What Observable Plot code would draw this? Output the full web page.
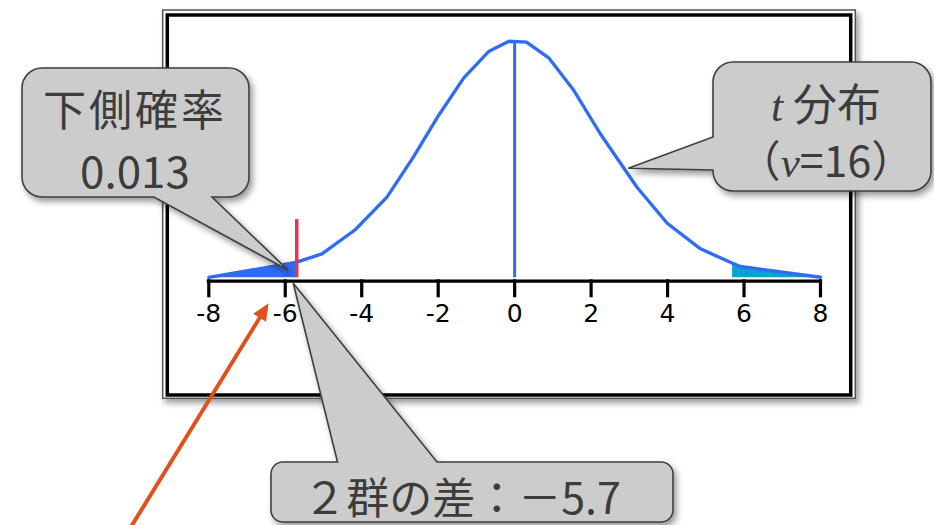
<!DOCTYPE html>
<html><head><meta charset="utf-8">
<script src="https://cdn.jsdelivr.net/npm/d3@7"></script>
<script src="https://cdn.jsdelivr.net/npm/@observablehq/plot@0.6"></script>
<style>
body{margin:0;background:#fff;}
#chart svg{display:block;}
</style>
</head><body><div id="chart"></div>
<script>
// ---- data ----
const ticksX = [-8, -6, -4, -2, 0, 2, 4, 6, 8];
const curveX = [-8, -5.7, -5.04, -4.17, -3.34, -2.65, -1.99, -1.33, -0.67, -0.15, 0.31, 0.89, 1.55, 2.24, 3.2, 3.99, 4.86, 5.7, 5.9, 8];
const curveY = [0.0003, 0.0113, 0.0173, 0.0347, 0.0582, 0.0871, 0.1172, 0.1444, 0.1636, 0.1708, 0.1701, 0.1588, 0.1352, 0.1040, 0.0654, 0.0394, 0.0209, 0.0105, 0.0082, 0.0004];
const observedDiff = -5.7;
const upperCut = 5.7;
const markerTop = 0.042;
const lowerProbText = "0.013";
const dfText = "16";
const diffText = "－5.7";

const BLUE = "#2f6cf6", TEAL = "#0aa0cf", RED = "#e8334a", ORANGE = "#e0521c";
const GREYFILL = "#cccccc", GREYLINE = "#3f3f3f", TEXT = "#3c3c3c";

const curve = curveX.map((x, i) => ({x, y: curveY[i]}));
const lower = curve.filter(d => d.x <= observedDiff);
const upper = curve.filter(d => d.x >= upperCut);
const peak = d3.max(curveY);

const svg = Plot.plot({
  width: 934, height: 525,
  marginLeft: 208.3, marginRight: 114, marginTop: 28, marginBottom: 247.7,
  x: {domain: [ticksX[0], ticksX[ticksX.length - 1]]},
  y: {domain: [0, 0.18], axis: null},
  style: {background: "transparent", overflow: "visible", fontFamily: "DejaVu Sans", fontSize: "25px", color: "#000"},
  marks: [
    Plot.areaY(lower, {x: "x", y: "y", fill: BLUE}),
    Plot.areaY(upper, {x: "x", y: "y", fill: TEAL}),
    Plot.line(curve, {x: "x", y: "y", stroke: BLUE, strokeWidth: 3.3}),
    Plot.ruleX([0], {y1: 0, y2: peak, stroke: BLUE, strokeWidth: 3}),
    Plot.ruleX([observedDiff], {y1: 0, y2: markerTop, stroke: RED, strokeWidth: 3.5}),
    Plot.axisX({ticks: ticksX, tickFormat: d => String(d), tickSize: 18, tickPadding: 6, strokeWidth: 3.2, dy: 2, label: null, anchor: "bottom", fill: "#000", fontSize: 25, fontFamily: "DejaVu Sans"}),
    Plot.ruleY([0], {x1: ticksX[0], x2: ticksX[ticksX.length - 1], stroke: "#000", strokeWidth: 3.2, dy: 3.4, strokeLinecap: "square"})
  ]
});
document.getElementById("chart").appendChild(svg);
d3.select(svg).selectAll("[aria-label='x-axis tick label'], [aria-label='x-axis tick label'] text")
  .attr("font-size", 25).style("font-size", "25px");

// ---- decorations (frame, callouts, arrow) ----
const root = d3.select(svg);
const defs = root.insert("defs", ":first-child");
const sh = defs.append("filter").attr("id", "shadow").attr("x", "-20%").attr("y", "-20%").attr("width", "150%").attr("height", "150%");
sh.append("feDropShadow").attr("dx", 3).attr("dy", 4).attr("stdDeviation", 3).attr("flood-color", "#000").attr("flood-opacity", 0.4);

const frame = root.insert("g", "defs + *");
frame.append("rect").attr("x", 162.7).attr("y", 10).attr("width", 692.6).attr("height", 388.3)
  .attr("fill", "#fff").attr("stroke", "#555").attr("stroke-width", 1.5).attr("filter", "url(#shadow)");
frame.append("rect").attr("x", 167.3).attr("y", 15).attr("width", 683.4).attr("height", 380)
  .attr("fill", "none").attr("stroke", "#000").attr("stroke-width", 3.5);

function calloutPath(x0, y0, x1, y1, r, side, a, b, tip) {
  const p = d3.path();
  p.moveTo(x0 + r, y0);
  if (side === "top") { p.lineTo(a, y0); p.lineTo(tip[0], tip[1]); p.lineTo(b, y0); }
  p.lineTo(x1 - r, y0); p.arcTo(x1, y0, x1, y0 + r, r);
  p.lineTo(x1, y1 - r); p.arcTo(x1, y1, x1 - r, y1, r);
  if (side === "bottom") { p.lineTo(b, y1); p.lineTo(tip[0], tip[1]); p.lineTo(a, y1); }
  p.lineTo(x0 + r, y1); p.arcTo(x0, y1, x0, y1 - r, r);
  if (side === "left") { p.lineTo(x0, b); p.lineTo(tip[0], tip[1]); p.lineTo(x0, a); }
  p.lineTo(x0, y0 + r); p.arcTo(x0, y0, x0 + r, y0, r);
  p.closePath();
  return p.toString();
}
const ann = root.append("g");
function callout(d) {
  ann.append("path").attr("d", d).attr("fill", GREYFILL).attr("stroke", GREYLINE)
    .attr("stroke-width", 1.6).attr("stroke-linejoin", "miter").attr("filter", "url(#shadow)");
}
function label(x, y, size) {
  return ann.append("text").attr("x", x).attr("y", y).attr("text-anchor", "middle")
    .attr("font-family", "'Noto Sans CJK JP', sans-serif").attr("font-size", size).attr("fill", TEXT);
}

const xs = v => svg.scale("x").apply(v);
const y0px = svg.scale("y").apply(0);

// lower-probability callout
callout(calloutPath(22, 68, 249, 197, 20, "bottom", 154, 212, [xs(observedDiff) - 8, y0px - 7]));
label(135, 126, 43).attr("letter-spacing", 3).text("下側確率");
label(135, 188, 44).text(lowerProbText);

// t distribution callout
callout(calloutPath(713, 62, 931, 191, 20, "left", 137, 170, [628.3, 168.3]));
const t1 = label(826, 121, 44);
t1.append("tspan").attr("font-family", "'Liberation Serif', serif").attr("font-style", "italic").text("t");
t1.append("tspan").text(" 分布");
const t2 = label(826, 177, 43);
t2.append("tspan").text("（");
t2.append("tspan").attr("font-family", "'Liberation Serif', serif").attr("font-style", "italic").text("ν");
t2.append("tspan").text("=" + dfText + "）");

// difference callout
callout(calloutPath(271, 462, 673, 522, 12, "top", 337.5, 437, [xs(observedDiff) - 3, y0px + 6]));
label(462, 514, 43).text("２群の差：" + diffText);

// orange arrow
const tip = [268.6, 303.3], tail = [126, 535];
const dx = tip[0] - tail[0], dy = tip[1] - tail[1], L = Math.hypot(dx, dy);
const ux = dx / L, uy = dy / L, hl = 17, hw = 7.5;
const bx = tip[0] - hl * ux, by = tip[1] - hl * uy;
ann.append("line").attr("x1", tail[0]).attr("y1", tail[1]).attr("x2", bx + 2 * ux).attr("y2", by + 2 * uy)
  .attr("stroke", ORANGE).attr("stroke-width", 4);
ann.append("path").attr("d", `M${tip[0]},${tip[1]}L${bx - hw * uy},${by + hw * ux}L${bx + hw * uy},${by - hw * ux}Z`)
  .attr("fill", ORANGE);
</script>
</body></html>
